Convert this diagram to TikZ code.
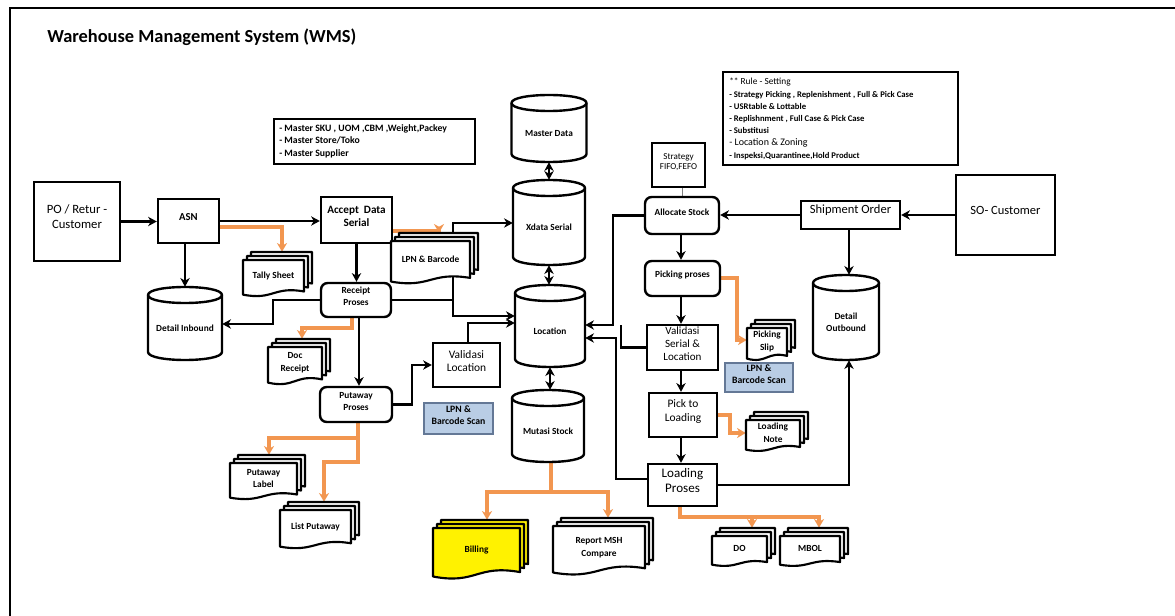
\documentclass[tikz,border=0pt]{standalone}
\usepackage{fontspec}
\setmainfont{Carlito}
\usetikzlibrary{arrows.meta,fit,calc}
\definecolor{orng}{RGB}{242,150,80}
\definecolor{scanblue}{RGB}{185,205,229}
\definecolor{scanedge}{RGB}{100,120,150}
\newcommand\fsz[2]{\fontsize{#1}{#2}\selectfont}
\pgfdeclarelayer{back}
\pgfdeclarelayer{bg}
\pgfsetlayers{back,bg,main}
\tikzset{
  bx/.style={draw, line width=1.8pt, fill=white, inner sep=0pt, align=center},
  rbx/.style={bx, rounded corners=5pt},
  thinbx/.style={draw, line width=0.8pt, fill=white, inner sep=0pt, align=center},
  scan/.style={draw=scanedge, line width=0.8pt, fill=scanblue, inner sep=0pt, align=center, font=\fsz{7.3}{9}\bfseries},
  conn/.style={line width=1.8pt},
  arr/.style={conn, ->},
  darr/.style={conn, <->},
  oarr/.style={line width=2.4pt, draw=orng, -{Stealth[length=6.5pt,width=7.5pt,inset=2pt]}},
  docline/.style={line width=1.6pt, line join=round},
  lbl/.style={inner sep=0pt, align=center},
  doctext/.style={lbl, font=\fsz{7}{9.5}\bfseries},
}
\newcommand\mdoc[7]{%
  \node[inner sep=0pt, fit={(#2,#3)(#4,#5)}] (#1) {};
  \foreach \k in {2,1,0}{%
    \pgfmathsetmacro\mdax{#2+\k*4}%
    \pgfmathsetmacro\mdbx{#4-(2-\k)*4}%
    \pgfmathsetmacro\mdty{#3+(2-\k)*4}%
    \pgfmathsetmacro\mdby{#5-\k*4}%
    \pgfmathsetmacro\mdmx{(\mdax+\mdbx)/2}%
    \pgfmathsetmacro\mdvv{0.1*(\mdby-\mdty)}%
    \draw[docline, fill=#7] (\mdax,\mdty) -- (\mdbx,\mdty) -- (\mdbx,{\mdby-\mdvv}) .. controls (\mdmx,{\mdby-2.6*\mdvv}) and (\mdmx,{\mdby+1.6*\mdvv}) .. (\mdax,{\mdby-0.1*\mdvv}) -- cycle;
  }%
  \node[doctext] (#1-t) at ({(#2+#4-8)/2},{(#3+8+#5)/2-2}) {#6};
}
\newcommand\dbcyl[6]{%
  \pgfmathsetmacro\cyxl{#2-#5/2}%
  \pgfmathsetmacro\cyxr{#2+#5/2}%
  \pgfmathsetmacro\cyyt{#3+8}%
  \pgfmathsetmacro\cyyb{#4-8}%
  \draw[docline, line width=1.8pt, fill=white] (\cyxl,\cyyt) -- (\cyxl,\cyyb) .. controls (\cyxl,{\cyyb+10.67}) and (\cyxr,{\cyyb+10.67}) .. (\cyxr,\cyyb) -- (\cyxr,\cyyt) .. controls (\cyxr,{\cyyt-10.67}) and (\cyxl,{\cyyt-10.67}) .. (\cyxl,\cyyt) -- cycle;
  \draw[docline, line width=1.8pt] (\cyxl,\cyyt) .. controls (\cyxl,{\cyyt+10.67}) and (\cyxr,{\cyyt+10.67}) .. (\cyxr,\cyyt);
  \node[inner sep=0pt, fit={(\cyxl,#3)(\cyxr,#4)}] (#1) {};
  \node[lbl, font=\fsz{7}{9}\bfseries] (#1-t) at (#2,{(#3+#4)/2+5}) {#6};
}
\begin{document}
\begin{tikzpicture}[x=0.75pt,y=-0.75pt, >={Stealth[length=6.5pt,width=7pt,inset=2pt]}]
\useasboundingbox (0,0) rectangle (1175,616);
\begin{pgfonlayer}{back}
\fill[white] (0,0) rectangle (1175,616);
\draw[line width=1.6pt] (10,8) rectangle (1195,640);
\end{pgfonlayer}

\node[anchor=west, inner sep=0pt, font=\fsz{13.8}{16}\bfseries] (title) at (47,37) {Warehouse Management System (WMS)};

% info boxes
\node[thinbx, line width=1pt, fit={(274,119)(475,164)}] (mlist) {};
\node[lbl, anchor=west, align=left, font=\fsz{7.3}{9.4}\bfseries] (mlist-t) at (279,141) {- Master SKU , UOM ,CBM ,Weight,Packey\\- Master Store/Toko\\- Master Supplier};
\node[thinbx, fit={(723,72)(958,165)}] (rules) {};
\node[lbl, anchor=north west, align=left, font=\fsz{6.5}{9.15}\bfseries] (rules-t) at (729,78) {{\mdseries\fsz{7}{9.15}** Rule - Setting}\\- Strategy Picking , Replenishment , Full \& Pick Case\\- USRtable \& Lottable\\- Replishnment , Full Case \& Pick Case\\- Substitusi\\{\mdseries\fsz{7.5}{9.15}- Location \& Zoning}\\- Inspeksi,Quarantinee,Hold Product};

% process boxes
\node[bx, fit={(34,182)(120,261)}, font=\fsz{9.5}{11.25}] (po) {PO / Retur -\\Customer};
\node[bx, fit={(158,199)(219,243)}, font=\fsz{8}{10}\bfseries] (asn) {ASN};
\node[bx, fit={(321,197)(392,243)}, font=\fsz{8.4}{9.75}\bfseries] (accept) {Accept~~Data\\Serial};
\node[rbx, fit={(321,283)(391,317)}, font=\fsz{7}{9}\bfseries] (receipt) {Receipt\\Proses};
\node[rbx, fit={(320,387)(392,422)}, font=\fsz{7}{9}\bfseries] (putaway) {Putaway\\Proses};
\node[bx, fit={(433,343)(500,387)}, font=\fsz{8.6}{9.75}] (valloc) {Validasi\\Location};
\node[scan, fit={(424,403)(493,434)}] (scan1) {LPN \&\\Barcode Scan};
\node[thinbx, fit={(652,143)(705,187)}, font=\fsz{6.8}{8}] (strat) {Strategy\\FIFO,FEFO};
\node[rbx, fit={(645,197)(719,234)}, font=\fsz{7}{9}\bfseries] (alloc) {Allocate Stock};
\node[bx, fit={(801,201)(900,229)}, font=\fsz{9.4}{11}] (ship) {Shipment Order};
\node[bx, fit={(956,175)(1055,255)}, font=\fsz{9.4}{11}] (so) {SO- Customer};
\node[rbx, fit={(645,261)(720,296)}, font=\fsz{7}{9}\bfseries] (picking) {Picking proses};
\node[bx, fit={(647,325)(718,370)}, font=\fsz{8.3}{9.75}] (valser) {Validasi\\Serial \&\\Location};
\node[scan, fit={(725,363)(793,392)}] (scan2) {LPN \&\\Barcode Scan};
\node[bx, fit={(649,393)(717,437)}, font=\fsz{8.6}{10.5}] (p2l) {Pick to\\Loading};
\node[bx, fit={(648,464)(717,506)}, font=\fsz{9.8}{11.25}] (loading) {Loading\\Proses};

% databases
\dbcyl{detin}{185}{287}{360}{74}{Detail Inbound}
\dbcyl{master}{549}{95}{162}{75}{Master Data}
\dbcyl{xdata}{549}{180}{265}{72}{Xdata Serial}
\dbcyl{location}{550}{285}{367}{70}{Location}
\dbcyl{mutasi}{548}{390}{462}{72}{Mutasi Stock}
\dbcyl{detout}{846}{275}{360}{66}{Detail\\Outbound}

% documents
\mdoc{tally}{243}{252}{312}{295}{Tally Sheet}{white}
\mdoc{lpn}{391}{233}{478}{282}{LPN \& Barcode}{white}
\mdoc{docr}{268}{339}{330}{383}{Doc\\Receipt}{white}
\mdoc{plabel}{230}{455}{305}{498}{Putaway\\Label}{white}
\mdoc{lput}{280}{502}{359}{547}{List Putaway}{white}
\mdoc{billing}{433}{520}{528}{577}{Billing}{yellow}
\mdoc{report}{553}{518}{653}{573}{Report MSH\\Compare}{white}
\mdoc{pslip}{747}{320}{795}{359}{Picking\\Slip}{white}
\mdoc{lnote}{746}{412}{808}{450}{Loading\\Note}{white}
\mdoc{do}{712}{528}{775}{565}{DO}{white}
\mdoc{mbol}{780}{528}{848}{565}{MBOL}{white}

\begin{pgfonlayer}{bg}
% black connectors
\draw[arr] (po.east) -- (asn.west |- po.east);
\draw[arr] (asn.south -| 185,0) -- (detin.north -| 185,0);
\draw[arr] (asn.east) -- (accept.west |- asn.east);
\draw[arr] (accept.south) -- (receipt.north -| accept.south);
\draw[arr] (receipt.west) -| (273,324) -- (detin.east |- 0,324);
\draw[arr] (receipt.east) -| (453,223) -- (xdata.west |- 0,223);
\draw[arr] (receipt.east) -| (453,316) -- (location.west |- 0,316);
\draw[arr] (receipt.south -| 359,0) -- (putaway.north -| 359,0);
\draw[arr] (putaway.east) -| (412,365) -- (valloc.west |- 0,365);
\draw[arr] (valloc.north -| 468,0) |- (location.west |- 0,323);
\draw[darr] (master.south) -- (xdata.north);
\draw[darr] (xdata.south) -- (location.north -| xdata.south);
\draw[darr] (location.south) -- (mutasi.north -| location.south);
\draw[arr] (so.west) -- (ship.east |- so.west);
\draw[arr] (ship.west) -- (alloc.east |- ship.west);
\draw[arr] (ship.south -| 849,0) -- (detout.north -| 849,0);
\draw[arr] (alloc.south -| 681,0) -- (picking.north -| 681,0);
\draw[arr] (picking.south -| 681,0) -- (valser.north -| 681,0);
\draw[arr] (valser.south -| 681,0) -- (p2l.north -| 681,0);
\draw[arr] (p2l.south -| 681,0) -- (loading.north -| 681,0);
\draw[arr] (alloc.west) -| (613,325) -- (location.east |- 0,325);
\draw[conn] (valser.west) -| (621,325);
\draw[arr] (loading.west |- 0,479) -| (616,338) -- (location.east |- 0,338);
\draw[arr] (loading.east) -| (detout.south -| 849,0);
\draw[line width=0.5pt, gray] (strat.south -| 682,0) -- (alloc.north -| 682,0);
% orange connectors
\draw[oarr] (asn.east |- 0,227) -| (tally.north -| 282,0);
\draw[oarr] (accept.east |- 0,231) -| (lpn.north -| 439,0);
\draw[oarr] (receipt.south -| 352,0) -- (352,328) -| (docr.north -| 302,0);
\draw[oarr] (putaway.south -| 358,0) -- (358,438) -| (plabel.north -| 269,0);
\draw[oarr] (putaway.south -| 358,0) -- (358,462) -| (lput.north -| 324,0);
\draw[oarr] (mutasi.south -| 551,0) -- (551,492) -| (billing.north -| 487,0);
\draw[oarr] (mutasi.south -| 551,0) -- (551,492) -| (report.north -| 608,0);
\draw[oarr] (picking.east |- 0,278) -| (737,340) -- (pslip.west |- 0,340);
\draw[oarr] (p2l.east |- 0,415) -| (730,433) -- (lnote.west |- 0,433);
\draw[oarr] (loading.south -| 680,0) -- (680,517) -| (mbol.north -| 819,0);
\draw[oarr] (loading.south -| 680,0) -- (680,517) -| (do.north -| 752,0);
\end{pgfonlayer}
\end{tikzpicture}
\end{document}
